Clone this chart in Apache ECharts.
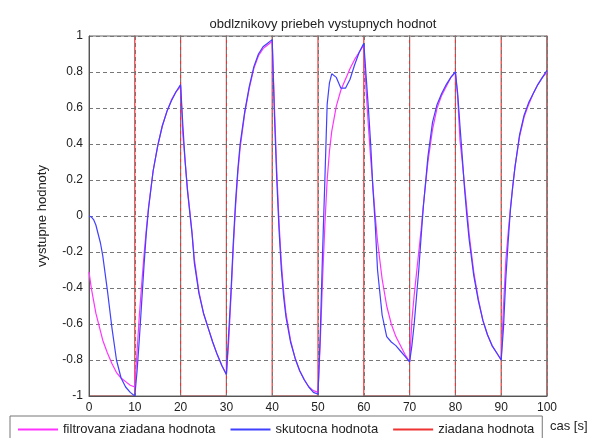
<!DOCTYPE html>
<html>
<head>
<meta charset="utf-8">
<script src="https://cdn.jsdelivr.net/npm/echarts@6/dist/echarts.min.js"></script>
<style>
    html, body { margin: 0; padding: 0; background: #fff; }
    #main { width: 592px; height: 438px; }
</style>
</head>
<body>
<div id="main"></div>
<script>
// cas [s]
var casy = [
    0, 0.5, 1, 1.5, 2, 2.5, 3, 4, 5, 6, 7, 8, 9,
    10, 10.5, 11, 11.5, 12, 12.5, 13, 14, 15, 16, 17, 18, 19,
    20, 20.5, 21, 21.5, 22, 22.5, 23, 24, 25, 26, 27, 28, 29,
    30, 30.5, 31, 31.5, 32, 32.5, 33, 34, 35, 36, 37, 38, 39,
    40, 40.5, 41, 41.5, 42, 42.5, 43, 44, 45, 46, 47, 48, 49,
    50, 50.5, 51, 51.5, 52, 52.5, 53, 54, 55, 56, 57, 58, 59,
    60, 60.5, 61, 61.5, 62, 62.5, 63, 64, 65, 66, 67, 68, 69,
    70, 70.5, 71, 71.5, 72, 72.5, 73, 74, 75, 76, 77, 78, 79,
    80, 80.5, 81, 81.5, 82, 82.5, 83, 84, 85, 86, 87, 88, 89,
    90, 90.5, 91, 91.5, 92, 92.5, 93, 94, 95, 96, 97, 98, 99,
    100
];
var filtrovana = [
    -0.31, -0.4, -0.47, -0.54, -0.59, -0.64, -0.69, -0.76, -0.82, -0.87, -0.9, -0.92, -0.94,
    -0.95, -0.75, -0.55, -0.38, -0.22, -0.08, 0.05, 0.25, 0.39, 0.5, 0.58, 0.645, 0.69,
    0.72, 0.45, 0.3, 0.15, 0.03, -0.09, -0.24, -0.42, -0.54, -0.62, -0.7, -0.77, -0.83,
    -0.88, -0.7, -0.45, -0.18, 0.05, 0.24, 0.38, 0.57, 0.71, 0.82, 0.89, 0.93, 0.95,
    0.97, 0.6, 0.25, -0.04, -0.26, -0.42, -0.54, -0.69, -0.79, -0.86, -0.91, -0.95, -0.97,
    -0.98, -0.7, -0.35, -0.05, 0.2, 0.36, 0.47, 0.61, 0.7, 0.76, 0.82, 0.87, 0.91,
    0.95, 0.7, 0.5, 0.32, 0.16, 0.0, -0.14, -0.35, -0.5, -0.6, -0.67, -0.72, -0.77,
    -0.81, -0.58, -0.44, -0.32, -0.2, -0.08, 0.06, 0.3, 0.48, 0.6, 0.67, 0.72, 0.77,
    0.8, 0.66, 0.42, 0.3, 0.17, 0.04, -0.1, -0.31, -0.46, -0.58, -0.66, -0.72, -0.76,
    -0.8, -0.5, -0.25, -0.1, 0.04, 0.16, 0.27, 0.44, 0.55, 0.62, 0.68, 0.73, 0.77,
    0.8
];
var skutocna = [
    0, -0.005, -0.02, -0.05, -0.1, -0.15, -0.22, -0.41, -0.62, -0.8, -0.9, -0.95, -0.98,
    -1.0, -0.86, -0.68, -0.48, -0.28, -0.1, 0.04, 0.25, 0.39, 0.5, 0.58, 0.64, 0.69,
    0.73, 0.5, 0.3, 0.14, 0.02, -0.1, -0.26, -0.43, -0.54, -0.62, -0.7, -0.77, -0.83,
    -0.88, -0.65, -0.42, -0.15, 0.08, 0.26, 0.4, 0.58, 0.72, 0.83, 0.9, 0.94, 0.96,
    0.98, 0.55, 0.2, -0.08, -0.3, -0.45, -0.56, -0.7, -0.79, -0.86, -0.91, -0.95, -0.98,
    -0.99, -0.65, -0.2, 0.2, 0.62, 0.74, 0.79, 0.77, 0.71, 0.71, 0.76, 0.84, 0.91,
    0.96, 0.78, 0.6, 0.4, 0.15, -0.05, -0.3, -0.55, -0.67, -0.7, -0.72, -0.75, -0.78,
    -0.81, -0.72, -0.6, -0.45, -0.3, -0.12, 0.05, 0.33, 0.52, 0.62, 0.68, 0.73, 0.77,
    0.8, 0.68, 0.5, 0.33, 0.15, 0.0, -0.13, -0.33, -0.47, -0.58, -0.66, -0.72, -0.76,
    -0.8, -0.62, -0.35, -0.15, 0.03, 0.16, 0.27, 0.45, 0.56, 0.63, 0.68, 0.73, 0.77,
    0.81
];
// ziadana hodnota - obdlznikovy signal (horna uroven je mimo osi)
var ziadanaCas = [0, 10, 10, 20, 20, 30, 30, 40, 40, 50, 50, 60, 60, 70, 70, 80, 80, 90, 90, 100, 100];
var ziadana = [-1, -1, 2, 2, -1, -1, 2, 2, -1, -1, 2, 2, -1, -1, 2, 2, -1, -1, 2, 2, -1];

var nazvy = ['filtrovana ziadana hodnota', 'skutocna hodnota', 'ziadana hodnota'];
var farby = ['#ff33ff', '#4040ff', '#ee3333'];

function pary(xs, ys) {
    var out = [];
    for (var i = 0; i < xs.length; i++) {
        out.push([xs[i], ys[i]]);
    }
    return out;
}

var font = 'Liberation Sans, Arial, sans-serif';
var myChart = echarts.init(document.getElementById('main'));
var option = {
    animation: false,
    backgroundColor: '#fff',
    title: {
        text: 'obdlznikovy priebeh vystupnych hodnot',
        left: 318,
        textAlign: 'center',
        top: 13,
        textStyle: {fontFamily: font, fontSize: 13, fontWeight: 'normal', color: '#222'}
    },
    legend: {
        left: 10,
        top: 416,
        padding: [7, 8],
        itemGap: 15,
        itemWidth: 40,
        itemHeight: 2,
        icon: 'rect',
        borderColor: '#777',
        borderWidth: 1,
        textStyle: {fontFamily: font, fontSize: 13, color: '#222'},
        data: nazvy.map(function (n, i) {
            return {name: n, itemStyle: {color: farby[i], borderWidth: 0}};
        })
    },
    grid: {
        left: 89,
        right: 45,
        top: 36,
        bottom: 42,
        show: true,
        borderColor: '#666',
        borderWidth: 1
    },
    xAxis: {
        type: 'value',
        min: 0,
        max: 100,
        interval: 10,
        name: 'cas [s]',
        nameLocation: 'end',
        nameGap: 3,
        nameTextStyle: {fontFamily: font, fontSize: 13, color: '#222', verticalAlign: 'top', padding: [24, 0, 0, 0]},
        axisLine: {onZero: false, lineStyle: {color: '#555'}},
        axisTick: {show: false},
        axisLabel: {fontFamily: font, fontSize: 12, color: '#222', margin: 6},
        splitLine: {show: true, lineStyle: {color: '#777', type: [4, 3], width: 1}}
    },
    yAxis: {
        type: 'value',
        min: -1,
        max: 1,
        interval: 0.2,
        name: 'vystupne hodnoty',
        nameLocation: 'middle',
        nameRotate: 90,
        nameGap: 40,
        nameTextStyle: {fontFamily: font, fontSize: 13, color: '#222'},
        axisLine: {onZero: false, lineStyle: {color: '#555'}},
        axisTick: {show: false},
        axisLabel: {fontFamily: font, fontSize: 12, color: '#222', margin: 6},
        splitLine: {show: true, lineStyle: {color: '#777', type: [4, 3], width: 1}}
    },
    series: [
        {
            name: nazvy[0],
            type: 'line',
            symbol: 'none',
            z: 3,
            color: farby[0],
            lineStyle: {color: farby[0], width: 1.2},
            data: pary(casy, filtrovana)
        },
        {
            name: nazvy[1],
            type: 'line',
            symbol: 'none',
            z: 4,
            color: farby[1],
            lineStyle: {color: farby[1], width: 1.2},
            data: pary(casy, skutocna)
        },
        {
            name: nazvy[2],
            type: 'line',
            symbol: 'none',
            clip: true,
            z: -1,
            color: farby[2],
            lineStyle: {color: farby[2], width: 1.2},
            data: pary(ziadanaCas, ziadana)
        }
    ]
};
myChart.setOption(option);
</script>
</body>
</html>
